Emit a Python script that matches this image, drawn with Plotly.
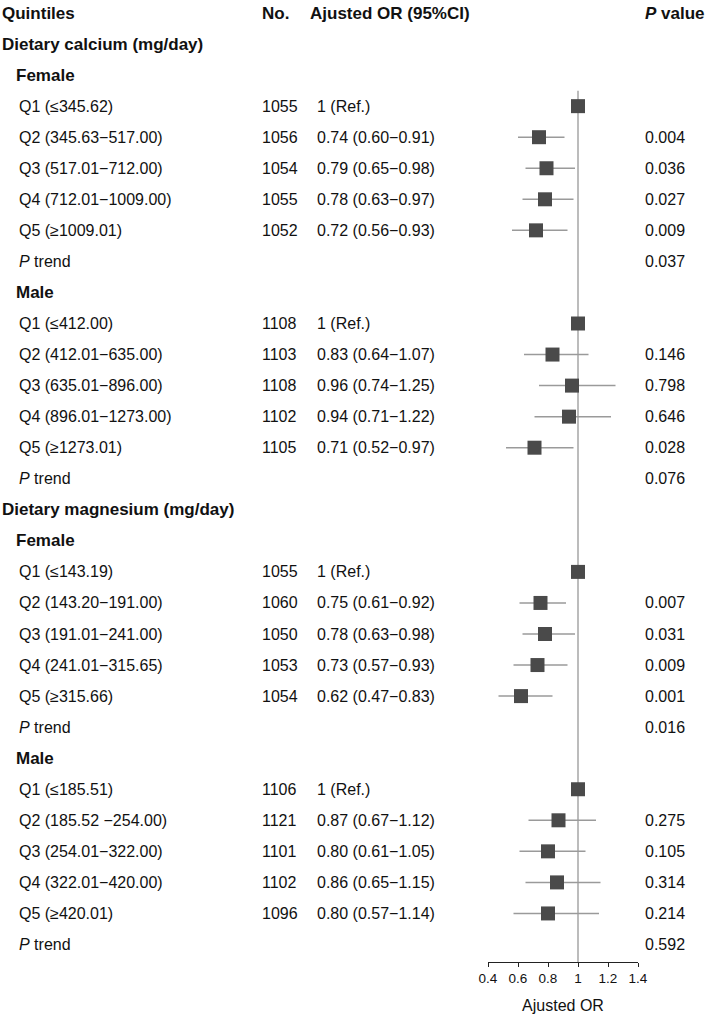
import plotly.graph_objects as go

# ---------------- data ----------------
sections = ["Dietary calcium (mg/day)", "Dietary magnesium (mg/day)"]
sexes = ["Female", "Male"]

quint_labels = [
    "Q1 (≤345.62)", "Q2 (345.63−517.00)", "Q3 (517.01−712.00)", "Q4 (712.01−1009.00)", "Q5 (≥1009.01)",
    "Q1 (≤412.00)", "Q2 (412.01−635.00)", "Q3 (635.01−896.00)", "Q4 (896.01−1273.00)", "Q5 (≥1273.01)",
    "Q1 (≤143.19)", "Q2 (143.20−191.00)", "Q3 (191.01−241.00)", "Q4 (241.01−315.65)", "Q5 (≥315.66)",
    "Q1 (≤185.51)", "Q2 (185.52 −254.00)", "Q3 (254.01−322.00)", "Q4 (322.01−420.00)", "Q5 (≥420.01)",
]
counts = [1055, 1056, 1054, 1055, 1052,
          1108, 1103, 1108, 1102, 1105,
          1055, 1060, 1050, 1053, 1054,
          1106, 1121, 1101, 1102, 1096]
odds = [1, 0.74, 0.79, 0.78, 0.72,
        1, 0.83, 0.96, 0.94, 0.71,
        1, 0.75, 0.78, 0.73, 0.62,
        1, 0.87, 0.80, 0.86, 0.80]
ci_low = [None, 0.60, 0.65, 0.63, 0.56,
          None, 0.64, 0.74, 0.71, 0.52,
          None, 0.61, 0.63, 0.57, 0.47,
          None, 0.67, 0.61, 0.65, 0.57]
ci_high = [None, 0.91, 0.98, 0.97, 0.93,
           None, 1.07, 1.25, 1.22, 0.97,
           None, 0.92, 0.98, 0.93, 0.83,
           None, 1.12, 1.05, 1.15, 1.14]
p_values = ["", "0.004", "0.036", "0.027", "0.009",
            "", "0.146", "0.798", "0.646", "0.028",
            "", "0.007", "0.031", "0.009", "0.001",
            "", "0.275", "0.105", "0.314", "0.214"]
p_trend = ["0.037", "0.076", "0.016", "0.592"]
x_ticks = [0.4, 0.6, 0.8, 1, 1.2, 1.4]
x_tick_text = ["0.4", "0.6", "0.8", "1", "1.2", "1.4"]

# ---------------- layout constants ----------------
W, H = 708, 1019
FONT = "Liberation Sans, Arial, sans-serif"
REG = 16
BOLD = 17
X_SEC, X_SEX, X_Q, X_N, X_OR, X_P = 2, 16, 19, 262, 317, 645

def px(x):
    return x / W

ann = []
q_rows = []
r = 1
k = 0
g = 0
for s in sections:
    ann.append(dict(x=px(X_SEC), y=r, text=f"<b>{s}</b>", size=BOLD))
    r += 1
    for sx in sexes:
        ann.append(dict(x=px(X_SEX), y=r, text=f"<b>{sx}</b>", size=BOLD))
        r += 1
        for j in range(5):
            q_rows.append(r)
            ann.append(dict(x=px(X_Q), y=r, text=quint_labels[k], size=REG))
            ann.append(dict(x=px(X_N), y=r, text=str(counts[k]), size=REG))
            if ci_low[k] is None:
                ortxt = "1 (Ref.)"
            else:
                ortxt = f"{odds[k]:.2f} ({ci_low[k]:.2f}−{ci_high[k]:.2f})"
            ann.append(dict(x=px(X_OR), y=r, text=ortxt, size=REG))
            if p_values[k]:
                ann.append(dict(x=px(X_P), y=r, text=p_values[k], size=REG))
            k += 1
            r += 1
        ann.append(dict(x=px(X_Q), y=r, text="<i>P</i> trend", size=REG))
        ann.append(dict(x=px(X_P), y=r, text=p_trend[g], size=REG))
        g += 1
        r += 1

# header
ann.append(dict(x=px(X_SEC), y=0, text="<b>Quintiles</b>", size=BOLD))
ann.append(dict(x=px(X_N), y=0, text="<b>No.</b>", size=BOLD))
ann.append(dict(x=px(310), y=0, text="<b>Ajusted OR (95%CI)</b>", size=BOLD))
ann.append(dict(x=px(X_P), y=0, text="<b><i>P</i> value</b>", size=BOLD))

err_plus = [(h - o) if h is not None else 0 for o, h in zip(odds, ci_high)]
err_minus = [(o - l) if l is not None else 0 for o, l in zip(odds, ci_low)]

fig = go.Figure()
fig.add_trace(go.Scatter(
    x=odds, y=q_rows, mode="markers",
    marker=dict(symbol="square", size=14, color="#4a4a4a", line=dict(width=0)),
    error_x=dict(type="data", symmetric=False, array=err_plus, arrayminus=err_minus,
                 color="#9a9a9a", thickness=1.5, width=0),
    showlegend=False, hoverinfo="skip",
))

# row geometry: row 0 at 13 px, step 31.05 px, axis line at 962 px
TOP_PX, STEP, AXIS_PX = 13, 31.05, 962
y_top = -TOP_PX / STEP
y_bot = y_top + AXIS_PX / STEP

fig.add_shape(type="line", xref="x", yref="y", x0=1, x1=1, y0=2.5, y1=y_bot,
              line=dict(color="#a6a6a6", width=1.5), layer="below")

for a in ann:
    fig.add_annotation(x=a["x"], y=a["y"], xref="paper", yref="y", text=a["text"],
                       showarrow=False, xanchor="left", yanchor="middle",
                       borderpad=0, borderwidth=0,
                       font=dict(family=FONT, size=a["size"], color="#111111"))

fig.update_layout(
    width=W, height=H,
    margin=dict(l=0, r=0, t=0, b=H - AXIS_PX, autoexpand=False),
    paper_bgcolor="white", plot_bgcolor="white",
    font=dict(family=FONT, color="#111111"),
    xaxis=dict(domain=[488 / W, 638 / W], range=[0.4, 1.4], tickvals=x_ticks, ticktext=x_tick_text,
               showgrid=False, zeroline=False, showline=True, linecolor="#222222", linewidth=1,
               ticks="outside", ticklen=4, tickcolor="#222222", tickfont=dict(size=13.5),
               automargin=False,
               title=dict(text="Ajusted OR", font=dict(size=16), standoff=14)),
    yaxis=dict(range=[y_bot, y_top], visible=False, showgrid=False, zeroline=False, automargin=False),
)

fig.write_html("out.html", config={"displayModeBar": False},
               post_script="document.body.style.margin='0';document.body.style.overflow='hidden';")
